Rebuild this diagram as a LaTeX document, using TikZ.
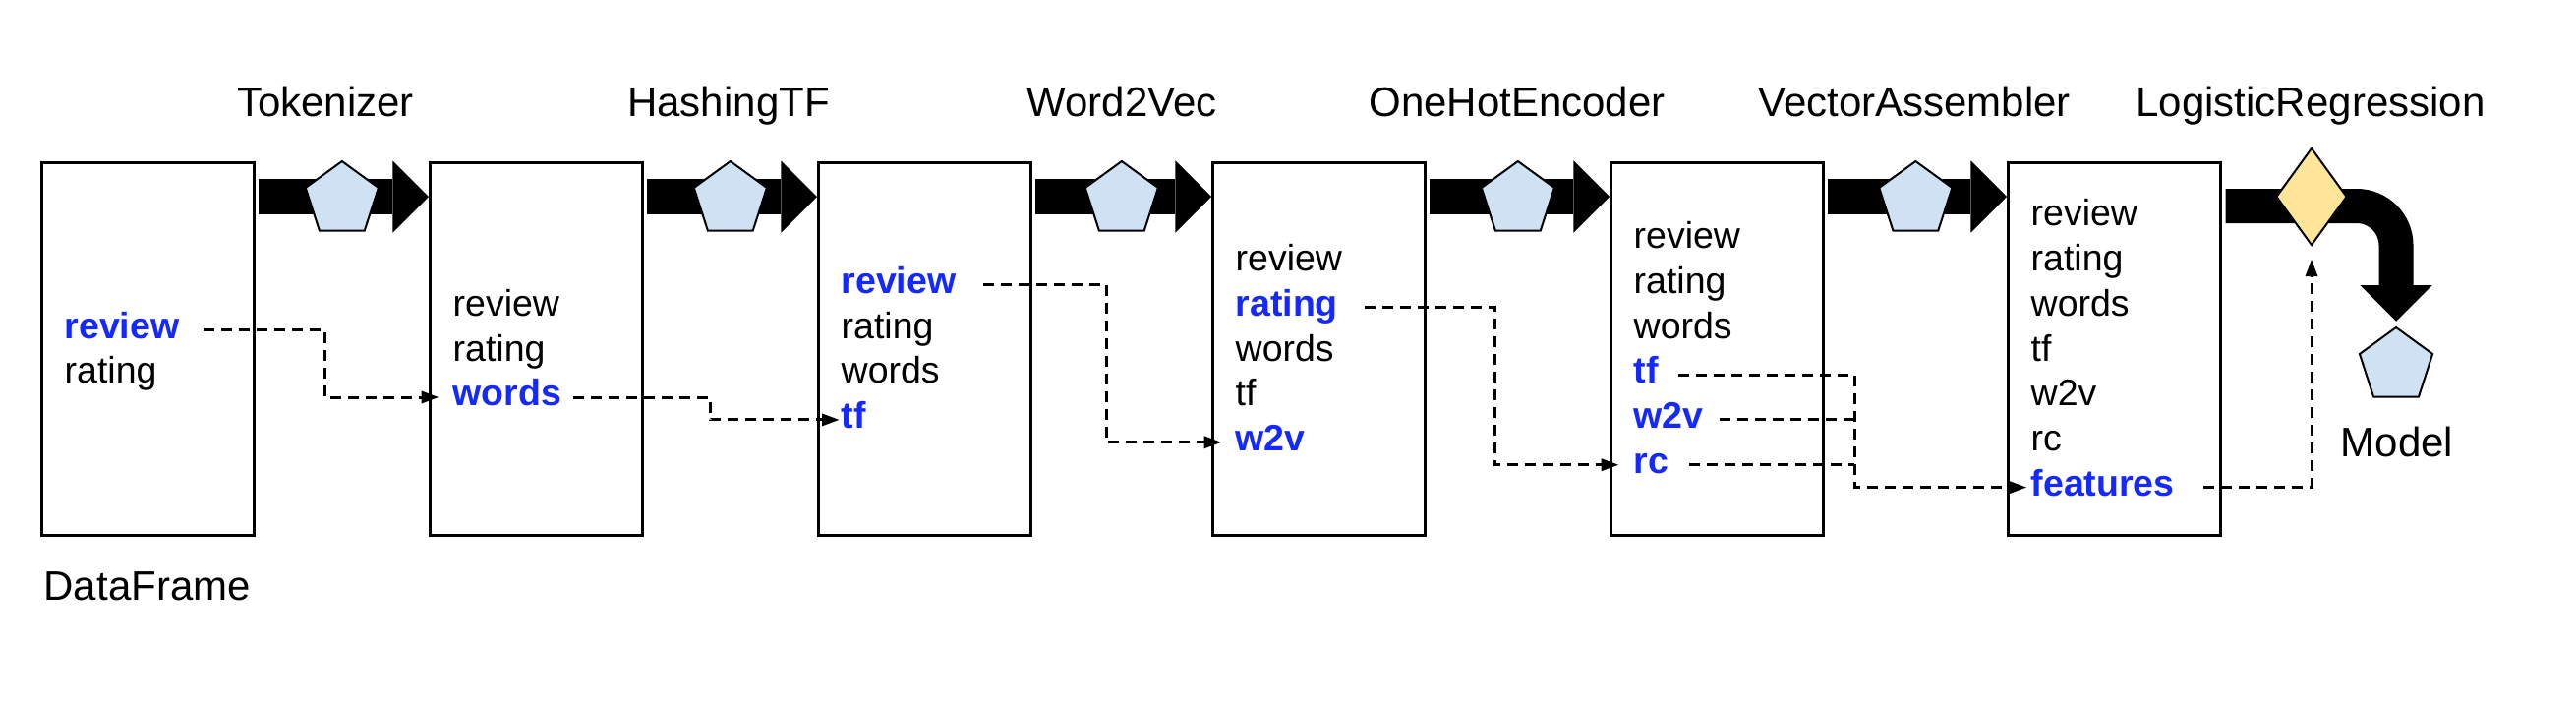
\documentclass[tikz,border=0pt]{standalone}
\usepackage{fontspec}
\setmainfont{Liberation Sans}
\usetikzlibrary{arrows.meta, calc, shapes.geometric}

\definecolor{keyblue}{RGB}{20,40,255}
\definecolor{stageblue}{HTML}{CFE2F3}
\definecolor{modelyellow}{HTML}{FFE599}

\newcommand{\fieldfont}{\fontsize{11.25}{13.7}\selectfont}
\newcommand{\captionfont}{\fontsize{12.6}{15}\selectfont}

\begin{document}
\begin{tikzpicture}
      [
        x=0.3pt, y=-0.3pt,
        frame/.style={draw, line width=0.8pt, anchor=north west, inner sep=0pt,
          minimum width=64.8pt, minimum height=113.7pt},
        field/.style={anchor=base west, inner sep=0pt, font=\fieldfont},
        key/.style={field, font=\fieldfont\bfseries, text=keyblue},
        caption/.style={anchor=base, inner sep=0pt, font=\captionfont},
        stage/.style={regular polygon, regular polygon sides=5, draw, line width=0.6pt,
          fill=stageblue, minimum size=23.4pt, inner sep=0pt},
        estimator/.style={diamond, draw, line width=0.6pt, fill=modelyellow,
          minimum width=21.6pt, minimum height=29.7pt, inner sep=0pt},
        pipe/.style={line width=11pt, -{Triangle[length=11pt, width=22pt, line width=0pt]}},
        link/.style={line width=0.9pt, dash pattern=on 3.3pt off 2.1pt,
          -{Triangle[length=5.2pt, width=3.9pt, line width=0pt]}}
      ]
      \useasboundingbox (0,0) rectangle (2620,718);
      % data frames
      \foreach \k/\x in {1/41,2/436,3/831,4/1232,5/1637,6/2041} {
          \node [frame] (d\k) at (\x,164) {};
      }
      % columns
      \foreach \n/\s [count=\i] in {review/key,rating/field}
          \node [\s] (d1-\n) at (65,{367+(\i-1.5)*45.8}) {\n};
      \foreach \n/\s [count=\i] in {review/field,rating/field,words/key}
          \node [\s] (d2-\n) at (460,{367+(\i-2)*45.8}) {\n};
      \foreach \n/\s [count=\i] in {review/key,rating/field,words/field,tf/key}
          \node [\s] (d3-\n) at (855,{367+(\i-2.5)*45.8}) {\n};
      \foreach \n/\s [count=\i] in {review/field,rating/key,words/field,tf/field,w2v/key}
          \node [\s] (d4-\n) at (1256,{367+(\i-3)*45.8}) {\n};
      \foreach \n/\s [count=\i] in {review/field,rating/field,words/field,tf/key,w2v/key,rc/key}
          \node [\s] (d5-\n) at (1661,{367+(\i-3.5)*45.8}) {\n};
      \foreach \n/\s [count=\i] in {review/field,rating/field,words/field,tf/field,w2v/field,rc/field,features/key}
          \node [\s] (d6-\n) at (2065,{367+(\i-4)*45.8}) {\n};
      % transformers
      \foreach \i/\j/\lx/\t in {1/2/331/Tokenizer,2/3/741/HashingTF,3/4/1141/Word2Vec,
                                4/5/1543/OneHotEncoder,5/6/1947/VectorAssembler} {
          \draw [pipe] ($(d\i.north east)+(3,36)$) -- ($(d\j.north west)+(0,36)$);
          \node [stage] (p\i) at ($(d\i.north east)!0.5!(d\j.north west)+(0,39)$) {};
          \node [caption] (t\i) at (\lx,118) {\t};
      }
      % estimator
      \node [stage] (m) at (2437,372) {};
      \draw [pipe, line width=10.5pt, rounded corners=12pt]
      ($(d6.north east)+(4,45.5)$) -| ([yshift=1.5pt]m.north);
      \node [estimator] (lr) at (2351,200) {};
      \node [caption] (t6) at (2350,118) {LogisticRegression};
      % labels
      \node [caption] (model) at (2438,464) {Model};
      \node [caption, anchor=base west] (df) at (44,610) {DataFrame};
      % column flow
      \coordinate (j1) at (330,0);
      \coordinate (j2) at (722,0);
      \coordinate (j3) at (1125,0);
      \coordinate (j4) at (1520,0);
      \coordinate (j5) at (1886,0);
      \draw [link] ([xshift=7.2pt]d1-review.mid east) -| (j1 |- d2-words.mid west)
      -- ([xshift=-4.2pt]d2-words.mid west);
      \draw [link] ([xshift=3.3pt]d2-words.mid east) -| (j2 |- d3-tf.mid west)
      -- ([xshift=-0.5pt]d3-tf.mid west);
      \draw [link] ([xshift=8pt]d3-review.mid east) -| (j3 |- d4-w2v.mid west)
      -- ([xshift=-4.2pt]d4-w2v.mid west);
      \draw [link] ([xshift=7.8pt]d4-rating.mid east) -| (j4 |- d5-rc.mid west)
      -- ([xshift=-4.5pt]d5-rc.mid west);
      \draw [link] ([xshift=6pt]d5-tf.mid east) -| (j5 |- d6-features.mid west)
      -- ([xshift=-1.2pt]d6-features.mid west);
      \draw [link, -] ([xshift=4.8pt]d5-w2v.mid east) -- (j5 |- d5-w2v.mid east);
      \draw [link, -] ([xshift=6pt]d5-rc.mid east) -- (j5 |- d5-rc.mid east);
      \draw [link] ([xshift=8.7pt]d6-features.mid east) -| ([yshift=-4pt]lr.south);
    \end{tikzpicture}
\end{document}
